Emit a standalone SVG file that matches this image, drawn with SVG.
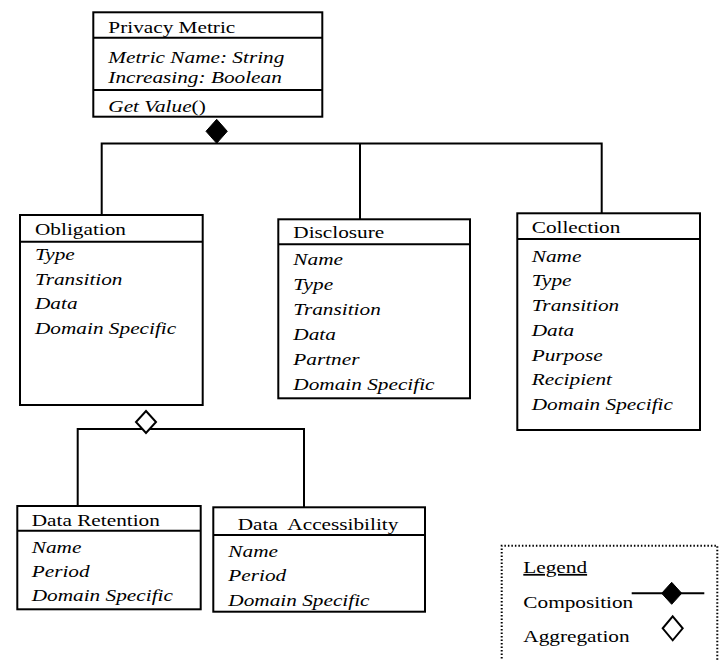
<svg xmlns="http://www.w3.org/2000/svg" width="722" height="660" viewBox="0 0 722 660" font-family="'Liberation Serif', 'Times New Roman', serif" font-size="17.6">
  <style>
    .box { fill: #fff; stroke: #000; stroke-width: 2; }
    .div { stroke: #000; stroke-width: 2; }
    .wire { fill: none; stroke: #000; stroke-width: 2; }
    text { font-family: 'Liberation Serif', 'Times New Roman', serif; font-size: 17.6px; fill: #000; }
    .attr { font-style: italic; }
    .legend-frame { fill: none; stroke: #000; stroke-width: 2; stroke-dasharray: 1.5 2; }
  </style>
  <rect width="722" height="660" fill="#fff"/>

  <!-- connectors -->
  <g id="connectors">
    <!-- composition: Privacy Metric to its three kinds -->
    <path class="wire" d="M101.7,215 V143.5 H601.7 V213.3 M360,143.5 V219.3"/>
    <polygon points="216.7,119.3 227.3,131.3 216.7,143.3 206,131.3" fill="#000" stroke="#000" stroke-width="1"/>
    <!-- aggregation: Obligation to retention / accessibility -->
    <path class="wire" d="M77.7,506 V429 H304 V507.3"/>
    <polygon points="146,411 156,422 146,433 136,422" fill="#fff" stroke="#000" stroke-width="2"/>
  </g>

  <g id="privacy-metric">
    <rect class="box" x="93.3" y="12.3" width="229" height="104.4"/>
    <line class="div" x1="93.3" y1="37.7" x2="322.3" y2="37.7"/>
    <line class="div" x1="93.3" y1="90" x2="322.3" y2="90"/>
    <text transform="translate(108.3,33) scale(1.21,1)">Privacy Metric</text>
    <text class="attr" transform="translate(108.3,63) scale(1.21,1)">Metric Name: String</text>
    <text class="attr" transform="translate(108.3,83.3) scale(1.21,1)">Increasing: Boolean</text>
    <text transform="translate(108.3,111.7) scale(1.21,1)"><tspan font-style="italic">Get Value</tspan>()</text>
  </g>

  <g id="obligation">
    <rect class="box" x="20" y="215" width="182.7" height="190"/>
    <line class="div" x1="20" y1="241.7" x2="202.7" y2="241.7"/>
    <text transform="translate(35,235) scale(1.21,1)">Obligation</text>
    <text class="attr" transform="translate(35,260) scale(1.21,1)">Type</text>
    <text class="attr" transform="translate(35,284.5) scale(1.21,1)">Transition</text>
    <text class="attr" transform="translate(35,309) scale(1.21,1)">Data</text>
    <text class="attr" transform="translate(35,333.5) scale(1.21,1)">Domain Specific</text>
  </g>

  <g id="disclosure">
    <rect class="box" x="278.3" y="219.3" width="191.7" height="179"/>
    <line class="div" x1="278.3" y1="244.3" x2="470" y2="244.3"/>
    <text transform="translate(293.3,238.3) scale(1.21,1)">Disclosure</text>
    <text class="attr" transform="translate(293.3,265) scale(1.21,1)">Name</text>
    <text class="attr" transform="translate(293.3,290) scale(1.21,1)">Type</text>
    <text class="attr" transform="translate(293.3,315) scale(1.21,1)">Transition</text>
    <text class="attr" transform="translate(293.3,340) scale(1.21,1)">Data</text>
    <text class="attr" transform="translate(293.3,365) scale(1.21,1)">Partner</text>
    <text class="attr" transform="translate(293.3,390) scale(1.21,1)">Domain Specific</text>
  </g>

  <g id="collection">
    <rect class="box" x="517.3" y="213.3" width="182.7" height="216.7"/>
    <line class="div" x1="517.3" y1="239" x2="700" y2="239"/>
    <text transform="translate(531.7,233.3) scale(1.21,1)">Collection</text>
    <text class="attr" transform="translate(531.7,261.7) scale(1.21,1)">Name</text>
    <text class="attr" transform="translate(531.7,286.4) scale(1.21,1)">Type</text>
    <text class="attr" transform="translate(531.7,311.1) scale(1.21,1)">Transition</text>
    <text class="attr" transform="translate(531.7,335.8) scale(1.21,1)">Data</text>
    <text class="attr" transform="translate(531.7,360.5) scale(1.21,1)">Purpose</text>
    <text class="attr" transform="translate(531.7,385.2) scale(1.21,1)">Recipient</text>
    <text class="attr" transform="translate(531.7,410) scale(1.21,1)">Domain Specific</text>
  </g>

  <g id="data-retention">
    <rect class="box" x="17.3" y="506" width="183.4" height="103.3"/>
    <line class="div" x1="17.3" y1="530.7" x2="200.7" y2="530.7"/>
    <text transform="translate(31.7,526) scale(1.21,1)">Data Retention</text>
    <text class="attr" transform="translate(31.7,553) scale(1.21,1)">Name</text>
    <text class="attr" transform="translate(31.7,577) scale(1.21,1)">Period</text>
    <text class="attr" transform="translate(31.7,601) scale(1.21,1)">Domain Specific</text>
  </g>

  <g id="data-accessibility">
    <rect class="box" x="213.3" y="507.3" width="211.7" height="104.4"/>
    <line class="div" x1="213.3" y1="535" x2="425" y2="535"/>
    <text transform="translate(237.7,530) scale(1.21,1)" xml:space="preserve">Data  Accessibility</text>
    <text class="attr" transform="translate(228.3,556.7) scale(1.21,1)">Name</text>
    <text class="attr" transform="translate(228.3,581.3) scale(1.21,1)">Period</text>
    <text class="attr" transform="translate(228.3,606) scale(1.21,1)">Domain Specific</text>
  </g>

  <g id="legend">
    <path class="legend-frame" d="M501.7,662 V545.7 H717.3 V662"/>
    <text transform="translate(523.3,573) scale(1.21,1)" text-decoration="underline">Legend</text>
    <text transform="translate(523.3,608) scale(1.21,1)">Composition</text>
    <text transform="translate(523.3,641.7) scale(1.21,1)">Aggregation</text>
    <line class="wire" x1="631.7" y1="593.3" x2="704.3" y2="593.3"/>
    <polygon points="671.7,582.3 681.7,593.3 671.7,604.3 661.7,593.3" fill="#000" stroke="#000" stroke-width="1"/>
    <polygon points="672.7,616.3 682.7,628.3 672.7,640.3 662.7,628.3" fill="#fff" stroke="#000" stroke-width="2"/>
  </g>
</svg>
